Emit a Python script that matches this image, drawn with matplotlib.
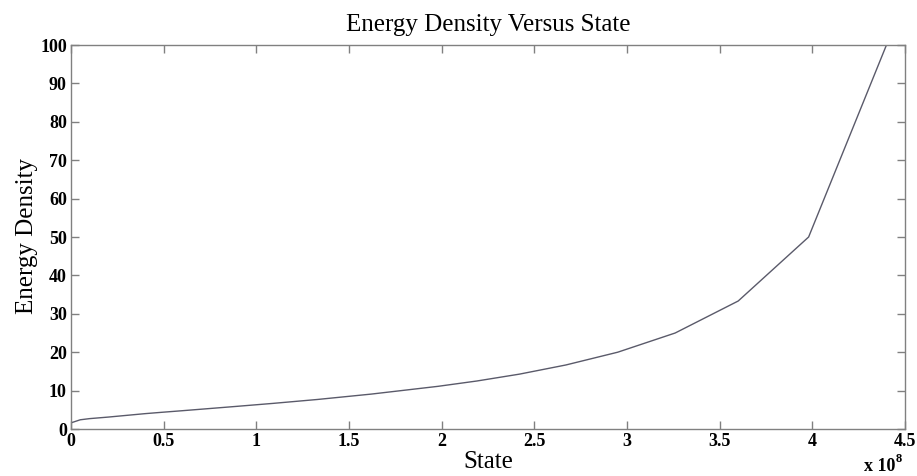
import matplotlib
matplotlib.use("Agg")
import matplotlib.pyplot as plt

# State values (in units of 1e8) and corresponding energy density
state = [0.00, 0.05, 0.10, 0.20, 0.30, 0.40, 0.49, 0.60, 0.73, 0.89, 1.09,
         1.33, 1.62, 1.98, 2.19, 2.42, 2.67, 2.95, 3.26, 3.60, 3.98, 4.40]
energy_density = [1.6, 2.4, 2.7, 3.1, 3.55, 4.0, 4.35, 4.76, 5.26, 5.88, 6.67,
                  7.69, 9.09, 11.11, 12.5, 14.29, 16.67, 20.0, 25.0, 33.33, 50.0, 100.0]

x_ticks = [0, 0.5, 1, 1.5, 2, 2.5, 3, 3.5, 4, 4.5]
x_tick_labels = ["0", "0.5", "1", "1.5", "2", "2.5", "3", "3.5", "4", "4.5"]
y_ticks = [0, 10, 20, 30, 40, 50, 60, 70, 80, 90, 100]

plt.rcParams['font.family'] = ['Liberation Serif', 'DejaVu Serif']

W, H = 917, 476
fig = plt.figure(figsize=(W / 100, H / 100), dpi=100)
ax = fig.add_axes([71 / W, 1 - 429 / H, 834 / W, 384 / H])

ax.plot(state, energy_density, color='#5a5a6a', linewidth=1.0)

ax.set_xlim(0, 4.5)
ax.set_ylim(0, 100)
ax.set_xticks(x_ticks)
ax.set_xticklabels(x_tick_labels)
ax.set_yticks(y_ticks)

for spine in ax.spines.values():
    spine.set_color('#808080')
    spine.set_linewidth(1.0)

ax.tick_params(direction='in', top=True, right=True, length=6, width=1.0,
               color='#808080', labelsize=13, pad=3)
for lbl in ax.get_xticklabels() + ax.get_yticklabels():
    lbl.set_fontweight('bold')

ax.set_title("Energy Density Versus State", fontsize=18, pad=10)

# axis labels
fig.text(488 / W, 1 - 468 / H, "State", fontsize=18, ha='center', va='baseline')
fig.text(38 / W, 1 - 236 / H, "Energy Density", fontsize=18, rotation=90,
         ha='right', va='center')

# scale factor of the x axis
fig.text(895 / W, 1 - 471 / H, "x 10", fontsize=13, fontweight='bold',
         ha='right', va='baseline')
fig.text(896 / W, 1 - 462 / H, "8", fontsize=9, fontweight='bold',
         ha='left', va='baseline')

fig.savefig("out.png", dpi=100)
